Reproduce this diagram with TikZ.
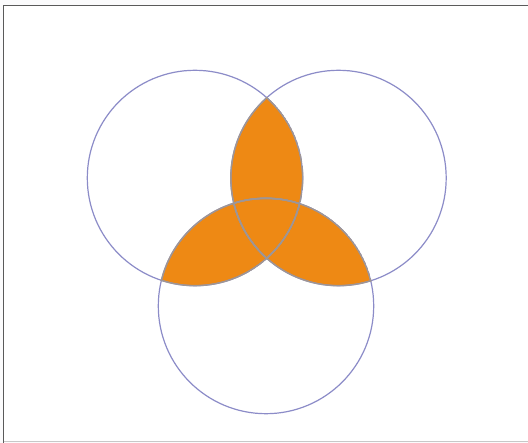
\documentclass[tikz,border=0pt]{standalone}
\begin{document}
\begin{tikzpicture}[x=1pt,y=-1pt,
  ring/.style={draw=ringblue,line width=1.2pt},
  ringin/.style={draw=ringgray,line width=1.5pt}]
\definecolor{ringblue}{RGB}{140,140,200}
\definecolor{ringgray}{RGB}{158,150,150}
\definecolor{vorange}{RGB}{238,137,20}
\definecolor{bgwhite}{RGB}{251,251,252}
\definecolor{framegray}{RGB}{90,90,90}
\definecolor{framelight}{RGB}{200,200,200}
\useasboundingbox (0,0) rectangle (528,443);
\fill[bgwhite] (0,0) rectangle (528,443);
\fill[white] (4,6) rectangle (528,441);
\draw[framegray,line width=1.3pt] (3.5,443) -- (3.5,5.5) -- (528,5.5);
\draw[framelight,line width=1pt] (3.5,441.5) -- (528,441.5);
\coordinate (A) at (195,178);
\coordinate (B) at (338.5,178);
\coordinate (C) at (266,306);
\def\rr{107.7}
% pairwise intersections
\begin{scope}\clip (A) circle (\rr); \fill[vorange] (B) circle (\rr);\end{scope}
\begin{scope}\clip (A) circle (\rr); \fill[vorange] (C) circle (\rr);\end{scope}
\begin{scope}\clip (B) circle (\rr); \fill[vorange] (C) circle (\rr);\end{scope}
% outlines
\draw[ring] (A) circle (\rr);
\draw[ring] (B) circle (\rr);
\draw[ring] (C) circle (\rr);
\begin{scope}\clip (A) circle (\rr+0.7); \clip (B) circle (\rr+0.7);
  \draw[ringin] (A) circle (\rr); \draw[ringin] (B) circle (\rr); \draw[ringin] (C) circle (\rr);\end{scope}
\begin{scope}\clip (A) circle (\rr+0.7); \clip (C) circle (\rr+0.7);
  \draw[ringin] (A) circle (\rr); \draw[ringin] (B) circle (\rr); \draw[ringin] (C) circle (\rr);\end{scope}
\begin{scope}\clip (B) circle (\rr+0.7); \clip (C) circle (\rr+0.7);
  \draw[ringin] (A) circle (\rr); \draw[ringin] (B) circle (\rr); \draw[ringin] (C) circle (\rr);\end{scope}
\end{tikzpicture}
\end{document}
